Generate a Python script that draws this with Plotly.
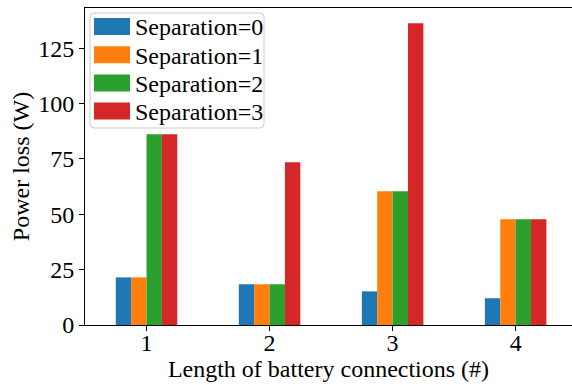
import plotly.graph_objects as go

categories = [1, 2, 3, 4]
series_names = ["Separation=0", "Separation=1", "Separation=2", "Separation=3"]
sep0 = [21.5, 18.4, 15.2, 12.1]
sep1 = [21.5, 18.4, 60.4, 47.8]
sep2 = [86.2, 18.4, 60.4, 47.8]
sep3 = [86.2, 73.5, 136.3, 47.8]
series_values = [sep0, sep1, sep2, sep3]
colors = ["#1f77b4", "#ff7f0e", "#2ca02c", "#d62728"]
y_ticks = [0, 25, 50, 75, 100, 125]

W, H = 572, 385
L, R, T, B = 85, 0, 8, 60
PW, PH = W - L - R, H - T - B
FONT = "Liberation Serif"
FS = 24

fig = go.Figure()
for name, vals, c in zip(series_names, series_values, colors):
    fig.add_trace(go.Bar(x=categories, y=vals, name=name, marker_color=c,
                         marker_line_width=0, showlegend=False))

def px(x):
    return (x - L) / PW

def py(y):
    return (H - B - y) / PH

shapes = []
annotations = []
# legend frame with rounded corners
x0, x1, y0, y1, r = 90, 264, 13, 128, 4
path = (f"M {px(x0+r)},{py(y0)} L {px(x1-r)},{py(y0)} Q {px(x1)},{py(y0)} {px(x1)},{py(y0+r)} "
        f"L {px(x1)},{py(y1-r)} Q {px(x1)},{py(y1)} {px(x1-r)},{py(y1)} "
        f"L {px(x0+r)},{py(y1)} Q {px(x0)},{py(y1)} {px(x0)},{py(y1-r)} "
        f"L {px(x0)},{py(y0+r)} Q {px(x0)},{py(y0)} {px(x0+r)},{py(y0)} Z")
shapes.append(dict(type="path", xref="paper", yref="paper", path=path,
                   fillcolor="rgba(255,255,255,0.8)", line=dict(color="#cccccc", width=1)))
row_centers = [26.5, 54.7, 82.9, 111.1]
for name, c, yc in zip(series_names, colors, row_centers):
    shapes.append(dict(type="rect", xref="paper", yref="paper",
                       x0=px(94), x1=px(130), y0=py(yc + 8.5), y1=py(yc - 8.5),
                       fillcolor=c, line=dict(width=0)))
    annotations.append(dict(xref="paper", yref="paper", x=px(133), y=py(yc + 1),
                            text=name, showarrow=False, xanchor="left", yanchor="middle",
                            font=dict(family=FONT, size=FS, color="black")))

fig.update_layout(
    width=W, height=H,
    margin=dict(l=L, r=R, t=T, b=B, pad=0),
    paper_bgcolor="white", plot_bgcolor="white",
    barmode="group", bargap=0.5, bargroupgap=0,
    font=dict(family=FONT, size=FS, color="black"),
    shapes=shapes, annotations=annotations,
    showlegend=False,
)
fig.update_xaxes(
    range=[0.5, 4.458], tickvals=categories, ticktext=[str(c) for c in categories],
    ticks="outside", ticklen=5, tickwidth=1, tickcolor="black",
    showline=True, linecolor="black", linewidth=1, mirror=True,
    showgrid=False, zeroline=False, ticklabelstandoff=-9,
    tickfont=dict(family=FONT, size=FS),
    title=dict(text="Length of battery connections (#)", font=dict(family=FONT, size=FS), standoff=0),
)
fig.update_yaxes(
    range=[0, 143.2], tickvals=y_ticks,
    ticks="outside", ticklen=5, tickwidth=1, tickcolor="black",
    showline=True, linecolor="black", linewidth=1,
    showgrid=False, zeroline=False,
    tickfont=dict(family=FONT, size=FS),
    title=dict(text="Power loss (W)", font=dict(family=FONT, size=FS), standoff=1),
)
fig.write_html("out.html")
